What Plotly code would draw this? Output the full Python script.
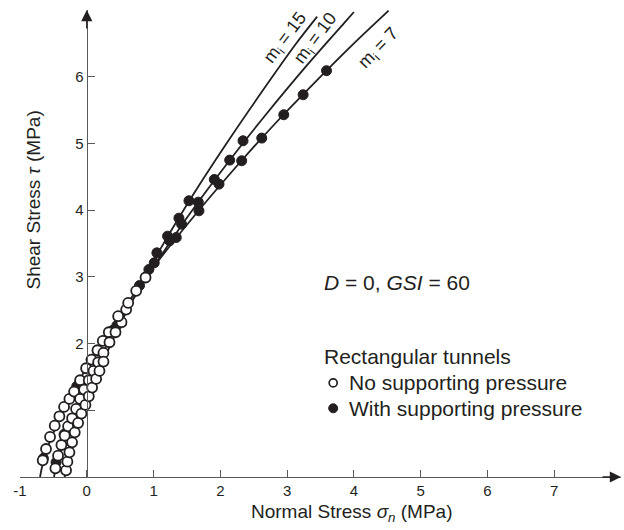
import plotly.graph_objects as go

INK = "#231f20"
AXIS = "#58595b"
FONT = "Liberation Sans, Arial, sans-serif"

# ---- Failure envelopes (normal stress, shear stress) in MPa ----
mi7_sigma = [-0.70, -0.67, -0.59, -0.42, -0.28, -0.15, 0.11, 0.37, 0.74, 1.11, 1.59, 2.29, 2.86, 3.42, 3.97, 4.52]
mi7_tau = [0.00, 0.15, 0.43, 0.84, 1.12, 1.38, 1.83, 2.24, 2.79, 3.29, 3.89, 4.71, 5.34, 5.92, 6.47, 6.99]

mi10_sigma = [-0.49, -0.46, -0.37, -0.23, 0.04, 0.44, 0.83, 1.46, 2.08, 2.68, 3.27, 3.85, 4.00]
mi10_tau = [0.00, 0.17, 0.48, 0.87, 1.48, 2.23, 2.88, 3.83, 4.67, 5.43, 6.14, 6.80, 6.97]

mi15_sigma = [-0.33, -0.31, -0.25, -0.11, 0.04, 0.31, 0.58, 1.11, 1.63, 2.14, 2.64, 3.13, 3.45]
mi15_tau = [0.00, 0.14, 0.40, 0.86, 1.24, 1.88, 2.45, 3.43, 4.29, 5.07, 5.80, 6.49, 6.90]

# ---- Rectangular tunnels, no supporting pressure (open circles) ----
open_sigma = [
    -0.66, -0.61, -0.55, -0.48, -0.41, -0.34, -0.26, -0.19, -0.10, -0.01, 0.07, 0.16, 0.24, 0.33,
    -0.47, -0.43, -0.38, -0.33, -0.28, -0.22, -0.16, -0.10, -0.04, 0.03, 0.10, 0.17, 0.25, 0.34, 0.43, 0.52,
    -0.31, -0.29, -0.26, -0.22, -0.18, -0.13, -0.08, -0.02, 0.03, 0.08, 0.14, 0.19, 0.25,
    0.47, 0.59, 0.62, 0.74, 0.88,
]
open_tau = [
    0.25, 0.42, 0.60, 0.77, 0.91, 1.05, 1.17, 1.28, 1.45, 1.63, 1.76, 1.90, 2.04, 2.17,
    0.13, 0.32, 0.48, 0.62, 0.76, 0.88, 1.02, 1.17, 1.31, 1.45, 1.59, 1.72, 1.86, 2.02, 2.17, 2.32,
    0.10, 0.23, 0.37, 0.52, 0.67, 0.81, 0.95, 1.08, 1.21, 1.34, 1.47, 1.59, 1.73,
    2.41, 2.51, 2.61, 2.79, 2.99,
]

# ---- Rectangular tunnels, with supporting pressure (filled circles) ----
filled_sigma = [3.59, 3.24, 2.95, 2.62, 2.32, 1.98, 2.34, 2.14, 1.91, 1.53, 1.67, 1.68, 1.38, 1.42,
                1.21, 1.34, 1.24, 1.05, 1.01, 0.93, 0.79, 0.45, 0.39, -0.15, -0.46, -0.65, -0.34]
filled_tau = [6.09, 5.73, 5.43, 5.08, 4.74, 4.39, 5.04, 4.75, 4.46, 4.14, 4.12, 3.99, 3.88, 3.79,
              3.61, 3.59, 3.54, 3.36, 3.21, 3.11, 2.87, 2.27, 2.20, 1.36, 0.22, 0.28, 0.64]

x_ticks = [-1, 0, 1, 2, 3, 4, 5, 6, 7]
y_ticks = [1, 2, 3, 4, 5, 6]
y_ticktext = ["", "2", "3", "4", "5", "6"]

fig = go.Figure()

for sig, tau in [(mi7_sigma, mi7_tau), (mi10_sigma, mi10_tau), (mi15_sigma, mi15_tau)]:
    fig.add_trace(go.Scatter(
        x=sig, y=tau, mode="lines",
        line=dict(color=INK, width=1.8, shape="spline", smoothing=0.8),
        showlegend=False, hoverinfo="skip"))

fig.add_trace(go.Scatter(
    x=filled_sigma, y=filled_tau, mode="markers",
    marker=dict(symbol="circle", size=10, color=INK, line=dict(color=INK, width=1)),
    showlegend=False, cliponaxis=False))

fig.add_trace(go.Scatter(
    x=open_sigma, y=open_tau, mode="markers",
    marker=dict(symbol="circle", size=10, color="white", line=dict(color=INK, width=1.8)),
    showlegend=False, cliponaxis=False))

annotations = []
# axis arrows
annotations.append(dict(x=0, y=7.0, xref="x", yref="y", text="", showarrow=True,
                        ax=0, ay=20, arrowhead=2, arrowsize=1.6, arrowwidth=1.4, arrowcolor=INK))
annotations.append(dict(x=8.0, y=0, xref="x", yref="y", text="", showarrow=True,
                        ax=-20, ay=0, arrowhead=2, arrowsize=1.6, arrowwidth=1.4, arrowcolor=INK))
# axis titles
annotations.append(dict(x=-0.80, y=4.15, xref="x", yref="y", textangle=-90, showarrow=False,
                        text="Shear Stress <i>τ</i> (MPa)", font=dict(size=19, color=INK, family=FONT)))
annotations.append(dict(x=3.97, y=-0.077, xref="x", yref="paper", xanchor="center", yanchor="middle",
                        showarrow=False,
                        text="Normal Stress <i>σ</i><sub><i>n</i></sub> (MPa)",
                        font=dict(size=19, color=INK, family=FONT)))
# curve labels
for txt, xx, yy, ang in [("m<sub>i</sub> = 15", 2.98, 6.57, -53),
                         ("m<sub>i</sub> = 10", 3.44, 6.57, -53),
                         ("m<sub>i</sub> = 7", 4.38, 6.42, -46)]:
    annotations.append(dict(x=xx, y=yy, xref="x", yref="y", text=txt, textangle=ang,
                            showarrow=False, font=dict(size=18, color=INK, family=FONT)))
# legend block
annotations.append(dict(x=3.52, y=2.92, xref="x", yref="y", xanchor="left", showarrow=False,
                        text="<i>D</i> = 0, <i>GSI</i> = 60", font=dict(size=21, color=INK, family=FONT)))
annotations.append(dict(x=3.52, y=1.80, xref="x", yref="y", xanchor="left", showarrow=False,
                        text="Rectangular tunnels", font=dict(size=21, color=INK, family=FONT)))
annotations.append(dict(x=3.90, y=1.41, xref="x", yref="y", xanchor="left", showarrow=False,
                        text="No supporting pressure", font=dict(size=21, color=INK, family=FONT)))
annotations.append(dict(x=3.90, y=1.03, xref="x", yref="y", xanchor="left", showarrow=False,
                        text="With supporting pressure", font=dict(size=21, color=INK, family=FONT)))

shapes = [
    dict(type="circle", xref="x", yref="y", xsizemode="pixel", ysizemode="pixel",
         xanchor=3.69, yanchor=1.41, x0=-4, x1=4, y0=-4, y1=4,
         line=dict(color=INK, width=1.7), fillcolor="white"),
    dict(type="circle", xref="x", yref="y", xsizemode="pixel", ysizemode="pixel",
         xanchor=3.69, yanchor=1.03, x0=-4.5, x1=4.5, y0=-4.5, y1=4.5,
         line=dict(color=INK, width=1), fillcolor=INK),
]

fig.update_layout(
    width=624, height=530, autosize=False,
    margin=dict(l=20, r=3, t=10, b=53),
    paper_bgcolor="white", plot_bgcolor="white",
    font=dict(family=FONT, color=INK),
    xaxis=dict(range=[-1, 8.0], showgrid=False, zeroline=False, showline=True,
               linecolor=AXIS, linewidth=1.3, ticks="inside", ticklen=7, tickwidth=1.3,
               tickcolor=AXIS, tickvals=x_ticks, ticktext=[str(v) for v in x_ticks],
               tickfont=dict(size=15, color=INK, family=FONT)),
    yaxis=dict(range=[0, 7.0], anchor="free", position=(86.8 - 20) / 601,
               showgrid=False, zeroline=False, showline=True,
               linecolor=AXIS, linewidth=1.3, ticks="inside", ticklen=7, tickwidth=1.3,
               tickcolor=AXIS, tickvals=y_ticks, ticktext=y_ticktext,
               tickfont=dict(size=15, color=INK, family=FONT)),
    annotations=annotations,
    shapes=shapes,
)

fig.write_html("out.html")
